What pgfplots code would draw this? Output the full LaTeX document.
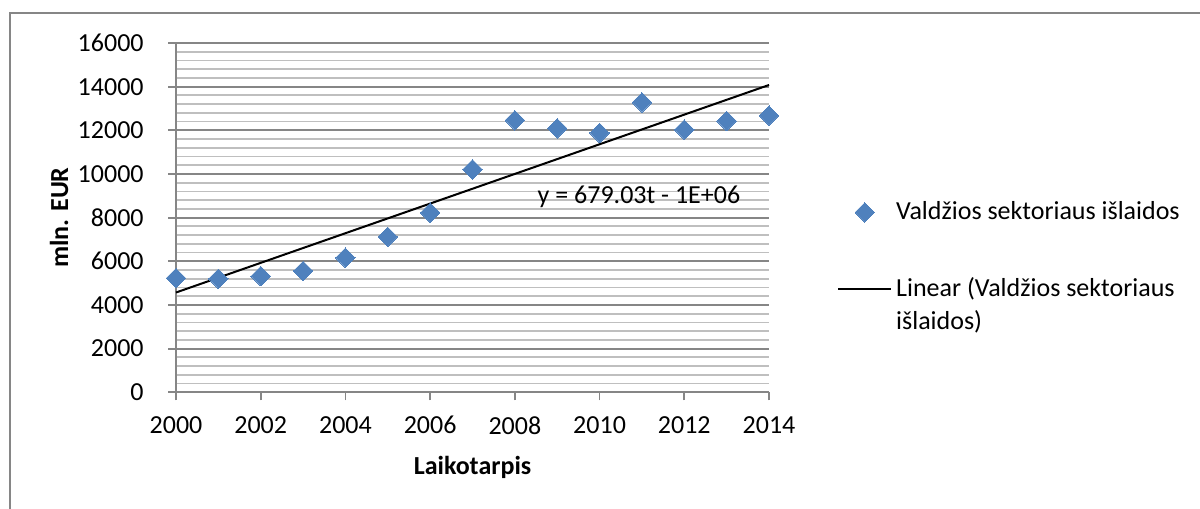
\documentclass[border=0pt]{standalone}
\usepackage{pgfplots}
\pgfplotsset{compat=1.18}
\usepackage{fontspec}
\setmainfont{Carlito}
\definecolor{exblue}{HTML}{4F81BD}
\definecolor{majgrid}{HTML}{868686}
\definecolor{mingrid}{HTML}{BFBFBF}
\newcommand{\myfont}{\fontsize{13bp}{16.7bp}\selectfont}
\begin{document}
\myfont
\begin{tikzpicture}
\useasboundingbox (0,0) rectangle (600bp,254.5bp);
\draw[majgrid, line width=1bp] (4.75bp,0) -- (4.75bp,247.75bp) -- (600bp,247.75bp);
\begin{axis}[
  at={(88bp,58.35bp)}, anchor=south west,
  scale only axis, width=296.5bp, height=174.65bp,
  xmin=2000, xmax=2014, ymin=0, ymax=16000,
  xtick={2000,2002,2004,2006,2008,2010,2012,2014},
  xticklabels={2000,2002,2004,2006,2008,2010,2012,2014},
  ytick={0,2000,4000,6000,8000,10000,12000,14000,16000},
  yticklabels={0,2000,4000,6000,8000,10000,12000,14000,16000},
  minor y tick num=4,
  ymajorgrids, yminorgrids,
  major grid style={majgrid, line width=0.9bp},
  minor grid style={mingrid, line width=0.9bp},
  axis lines*=left,
  axis line style={majgrid, line width=0.9bp, -},
  tick style={majgrid, line width=0.9bp},
  tick align=outside,
  major tick length=4bp,
  minor tick length=0pt,
  scaled ticks=false,
  clip=false,
  tick label style={font=\myfont},
  xticklabel style={anchor=north, inner sep=0pt, yshift=-7.85bp},
  yticklabel style={anchor=east, inner sep=0pt, xshift=-12bp},
  every axis x label/.style={at={(axis description cs:0.5,-0.2339)}, anchor=base, font=\myfont\bfseries},
  every axis y label/.style={at={(axis description cs:-0.1821,0.5)}, anchor=base, rotate=90, font=\myfont\bfseries},
  xlabel={Laikotarpis},
  ylabel={mln. EUR},
  legend style={at={(1.1147,0.5591)}, anchor=north west, draw=none, fill=none, inner sep=0pt, row sep=23bp,
    font=\myfont, /tikz/every even column/.append style={column sep=2.5bp}},
  legend cell align=left,
  legend image code/.code={\draw[mark repeat=2,mark phase=2,#1] plot coordinates {(0bp,0bp)(13.2bp,0bp)(26.4bp,0bp)};},
]
\addplot[color=exblue, only marks, mark=square*, mark size=3.45bp, mark options={rotate=45, fill=exblue, draw=exblue, line width=0pt}]
coordinates {
(2000,5230) (2001,5200) (2002,5318) (2003,5559) (2004,6164) (2005,7117) (2006,8229)
(2007,10210) (2008,12458) (2009,12092) (2010,11878) (2011,13282) (2012,12030) (2013,12427) (2014,12672)
};
\addlegendentry{Valdžios sektoriaus išlaidos}
\addplot[black, line width=1bp, no marks] coordinates {(2000,4571) (2014,14077)};
\addlegendentry{\parbox[t]{160bp}{Linear (Valdžios sektoriaus\\išlaidos)}}
\node[anchor=base, inner sep=0pt, font=\myfont] at (axis cs:2010.93,8658) {y = 679.03t - 1E+06};
\end{axis}
\end{tikzpicture}
\end{document}
